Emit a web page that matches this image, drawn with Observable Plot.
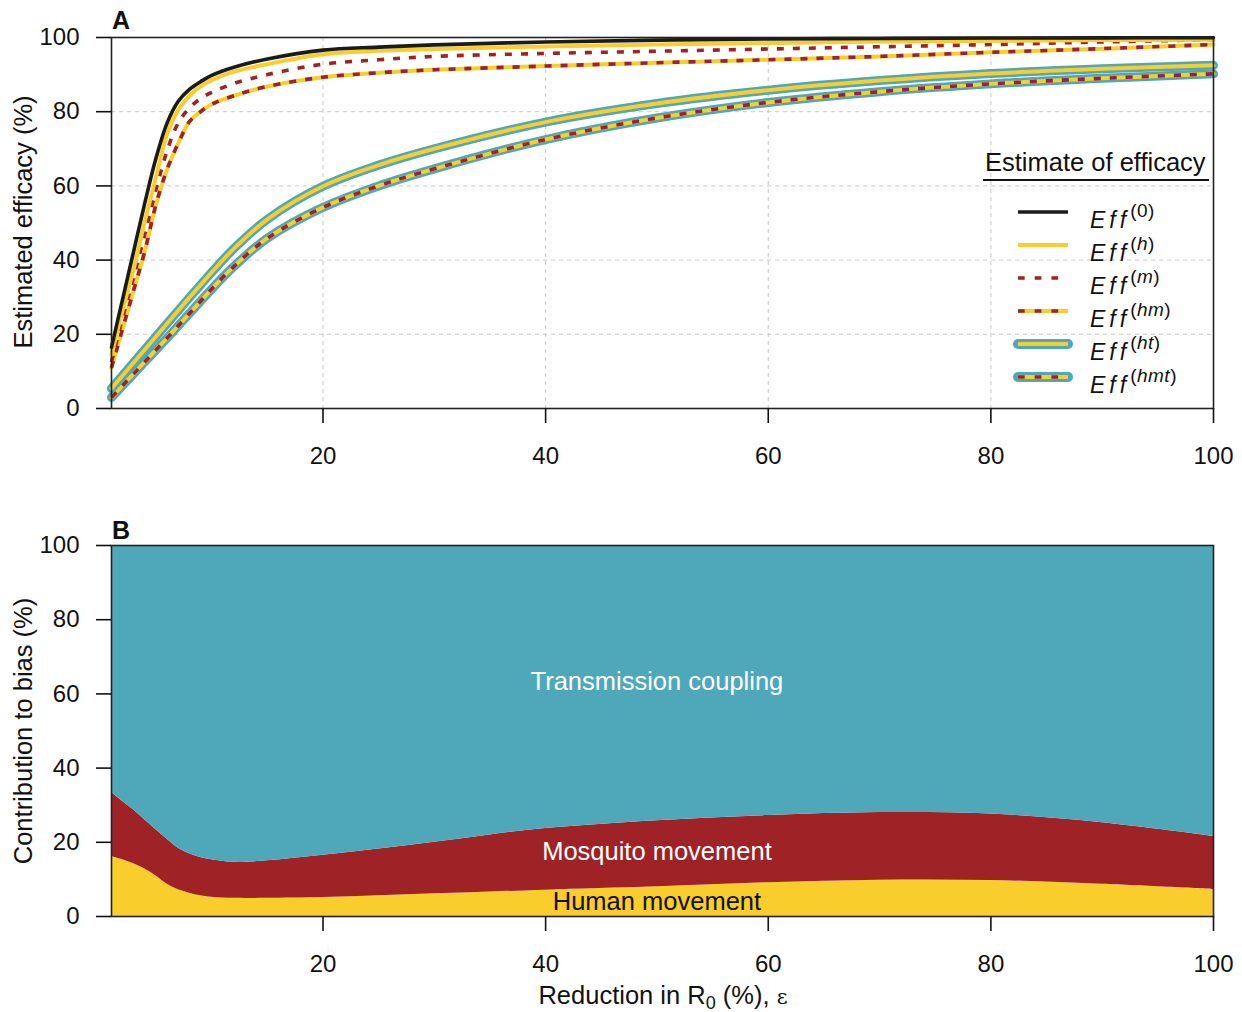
<!DOCTYPE html>
<html>
<head>
<meta charset="utf-8">
<script src="https://cdn.jsdelivr.net/npm/d3@7"></script>
<script src="https://cdn.jsdelivr.net/npm/@observablehq/plot@0.6"></script>
<style>
html,body{margin:0;padding:0;background:#fff;}
#root{position:relative;width:1242px;height:1012px;overflow:hidden;font-family:"Liberation Sans",Arial,Helvetica,sans-serif;color:#111;}
#root svg{position:absolute;left:0;}
.t{position:absolute;white-space:nowrap;line-height:1;font-size:25.5px;}
.c{transform:translate(-50%,-50%);}
.r{transform:translate(-50%,-50%) rotate(-90deg);}
.lab{position:absolute;font-size:25px;font-weight:bold;line-height:1;}
.eff{position:absolute;white-space:nowrap;line-height:1;font-size:23px;font-style:italic;}
.eff .e{letter-spacing:4px;}
.eff sup{font-size:19px;vertical-align:11px;line-height:0;font-style:normal;letter-spacing:0.5px;}
.eff sup i{font-style:italic;}
</style>
</head>
<body>
<div id="root"></div>
<script>
// ---------- Panel A data: estimated efficacy (%) vs reduction in R0 (%) ----------
const effX   = [1, 2, 3, 4, 5, 6, 7, 8, 9, 10, 12, 15, 20, 25, 30, 40, 50, 60, 70, 80, 90, 100];
const eff0   = [16.5, 29.5, 42.5, 55.5, 67.5, 77, 82.8, 86, 88.1, 89.8, 92, 94.2, 96.6, 97.4, 98, 98.8, 99.3, 99.6, 99.75, 99.85, 99.9, 99.95];
const effH   = [14.5, 26.5, 37.7, 50.5, 62.5, 74, 80.5, 84.3, 86.8, 88.5, 90.8, 92.8, 95.5, 96.4, 96.9, 97.6, 98.1, 98.5, 98.9, 99.1, 99.3, 99.4];
const effM   = [12.5, 24.5, 35.5, 47, 59, 69.5, 77, 81, 83.5, 85.2, 87.6, 90, 92.8, 94, 94.9, 95.7, 96.3, 96.9, 97.5, 98.1, 98.8, 99.4];
const effHM  = [11, 21.5, 32, 42.5, 55, 64.5, 71.5, 77.3, 80, 82, 84.3, 86.8, 89.3, 90.5, 91.3, 92.3, 93.2, 94, 94.9, 96, 97, 98.1];
const effHT  = [5.4, 8.9, 12.4, 15.9, 19.4, 22.9, 26.4, 29.9, 33.3, 36.7, 43.1, 51.0, 59.9, 65.6, 70.0, 77.2, 82.2, 85.8, 88.4, 90.3, 91.6, 92.5];
const effHMT = [3, 6.2, 9.4, 12.6, 15.8, 19.0, 22.3, 25.6, 28.9, 32.2, 38.3, 45.9, 54.2, 60.0, 64.6, 72.5, 78.3, 82.5, 85.4, 87.5, 89, 90.2];
const effKeys = ["0", "h", "m", "hm", "ht", "hmt"];

// ---------- Panel B data: contribution to bias (%) ----------
const biasX        = [1, 2, 3, 4, 5, 6, 7, 8, 9, 10, 12, 15, 20, 25, 30, 35, 40, 50, 60, 70, 80, 90, 100];
const human        = [16.2, 15.3, 14.2, 12.8, 10.9, 8.7, 7.2, 6.3, 5.6, 5.2, 4.9, 4.9, 5.1, 5.6, 6.1, 6.6, 7.1, 8.0, 9.1, 9.8, 9.7, 8.7, 7.3];
const mosquito     = [17.3, 15.7, 14.5, 13.2, 12.5, 12.1, 11.2, 10.6, 10.3, 10.1, 9.7, 10.1, 11.4, 12.6, 13.9, 15.4, 16.6, 17.8, 18.1, 18.2, 17.9, 16.6, 14.3];
const transmission = [66.5, 69.0, 71.3, 74.0, 76.6, 79.2, 81.6, 83.1, 84.1, 84.7, 85.4, 85.0, 83.5, 81.8, 80.0, 78.0, 76.3, 74.2, 72.8, 72.0, 72.4, 74.7, 78.4];
const components   = ["Human movement", "Mosquito movement", "Transmission coupling"];
const areaLabels   = [
  {label: "Transmission coupling", x: 50, y: 63.3, dark: false},
  {label: "Mosquito movement",     x: 50, y: 17.5, dark: false},
  {label: "Human movement",        x: 50, y: 4.0,  dark: true}
];

// ---------- Tick labels ----------
const xTicks = [20, 40, 60, 80, 100];
const yTicks = [0, 20, 40, 60, 80, 100];
const gridTicks = [20, 40, 60, 80];

// ---------- styling ----------
const C = {black: "#1b1b1b", yellow: "#f8cd2c", red: "#9e2226", teal: "#4fa7ba", frame: "#222"};
const DASH = "7,9";
const layersFor = {
  "0":   [{s: C.black, w: 3.6}],
  "h":   [{s: C.yellow, w: 4}],
  "m":   [{s: C.red, w: 3.6, d: DASH}],
  "hm":  [{s: C.yellow, w: 4}, {s: C.red, w: 3.6, d: DASH}],
  "ht":  [{s: C.teal, w: 9}, {s: C.yellow, w: 4}],
  "hmt": [{s: C.teal, w: 9}, {s: C.yellow, w: 4}, {s: C.red, w: 3.6, d: DASH}]
};
const seriesY = {"0": eff0, "h": effH, "m": effM, "hm": effHM, "ht": effHT, "hmt": effHMT};
const drawOrder = ["hmt", "ht", "hm", "m", "h", "0"];

const FONT = "'Liberation Sans', Arial, Helvetica, sans-serif";
const W = 1242, ML = 111, MR = 29;
const CURVE = "catmull-rom";

const rows = (xs, ys) => xs.map((x, i) => ({x, y: ys[i]}));

const lineMarks = [];
for (const k of drawOrder) {
  const data = rows(effX, seriesY[k]);
  for (const L of layersFor[k]) {
    lineMarks.push(Plot.line(data, {
      x: "x", y: "y", stroke: L.s, strokeWidth: L.w, curve: CURVE,
      strokeDasharray: L.d || null, strokeLinecap: L.d ? "butt" : "round", strokeLinejoin: "round"
    }));
  }
}

const plotA = Plot.plot({
  width: W, height: 480,
  marginLeft: ML, marginRight: MR, marginTop: 37, marginBottom: 72,
  style: {fontFamily: FONT, fontSize: "24px", color: "#111", background: "transparent", overflow: "visible"},
  x: {domain: [1, 100]},
  y: {domain: [0, 100]},
  marks: [
    Plot.gridX(gridTicks, {stroke: "#c8c8c8", strokeOpacity: 1, strokeWidth: 1, strokeDasharray: "4,4"}),
    Plot.gridY(gridTicks, {stroke: "#c8c8c8", strokeOpacity: 1, strokeWidth: 1, strokeDasharray: "4,4"}),
    ...lineMarks,
    Plot.frame({stroke: C.frame, strokeWidth: 1.6}),
    Plot.axisX(xTicks, {tickSize: 15, tickPadding: 23, label: null, strokeWidth: 1.6, fontSize: 24}),
    Plot.axisY(yTicks, {tickSize: 15, tickPadding: 17, label: null, strokeWidth: 1.6, fontSize: 24})
  ]
});

const stackData = [];
components.forEach((c, j) => {
  const vals = [human, mosquito, transmission][j];
  biasX.forEach((x, i) => stackData.push({x, v: vals[i], component: c}));
});

const plotB = Plot.plot({
  width: W, height: 532,
  marginLeft: ML, marginRight: MR, marginTop: 65, marginBottom: 96,
  style: {fontFamily: FONT, fontSize: "24px", color: "#111", background: "transparent", overflow: "visible"},
  x: {domain: [1, 100]},
  y: {domain: [0, 100]},
  color: {domain: components, range: [C.yellow, C.red, C.teal]},
  marks: [
    Plot.areaY(stackData, {x: "x", y: "v", fill: "component", order: components, curve: CURVE}),
    Plot.text(areaLabels, {x: "x", y: "y", text: "label", fill: d => d.dark ? "#111" : "#fff", fontSize: 25.5}),
    Plot.frame({stroke: C.frame, strokeWidth: 1.6}),
    Plot.axisX(xTicks, {tickSize: 15, tickPadding: 23, label: null, strokeWidth: 1.6, fontSize: 24}),
    Plot.axisY(yTicks, {tickSize: 15, tickPadding: 17, label: null, strokeWidth: 1.6, fontSize: 24})
  ]
});

const root = document.getElementById("root");
plotA.style.top = "0px";
plotB.style.top = "480px";
root.appendChild(plotA);
root.appendChild(plotB);

function addText(html, cls, left, top, extraStyle) {
  const d = document.createElement("div");
  d.className = cls;
  d.style.left = left + "px";
  d.style.top = top + "px";
  if (extraStyle) Object.assign(d.style, extraStyle);
  d.innerHTML = html;
  root.appendChild(d);
  return d;
}

// panel letters
addText("A", "lab", 112, 8);
addText("B", "lab", 112, 518);
// axis titles
addText("Estimated efficacy (%)", "t r", 24, 222);
addText("Contribution to bias (%)", "t r", 24, 731);
addText("Reduction in R<sub style=\"font-size:18px;vertical-align:-5px;line-height:0\">0</sub> (%), <span style=\"font-family:'DejaVu Serif',serif;font-size:21px;line-height:1\">ε</span>", "t c", 663, 996);

// legend
addText("Estimate of efficacy", "t", 985, 150);
const ul = document.createElement("div");
Object.assign(ul.style, {position: "absolute", left: "983px", top: "179px", width: "226px", height: "2px", background: "#111"});
root.appendChild(ul);

const svgNS = "http://www.w3.org/2000/svg";
effKeys.forEach((k, i) => {
  const cy = 212 + i * 33;
  const s = document.createElementNS(svgNS, "svg");
  s.setAttribute("width", 64); s.setAttribute("height", 16);
  s.style.position = "absolute"; s.style.left = "1011px"; s.style.top = (cy - 8) + "px";
  for (const L of layersFor[k]) {
    const ln = document.createElementNS(svgNS, "line");
    ln.setAttribute("x1", 7); ln.setAttribute("x2", 57);
    ln.setAttribute("y1", 8); ln.setAttribute("y2", 8);
    ln.setAttribute("stroke", L.s);
    ln.setAttribute("stroke-width", L.w === 9 ? 10 : L.w);
    ln.setAttribute("stroke-linecap", L.d ? "butt" : (L.w === 9 ? "round" : "butt"));
    if (L.d) ln.setAttribute("stroke-dasharray", "6.7,10");
    s.appendChild(ln);
  }
  root.appendChild(s);
  const sup = k === "0" ? "(0)" : "(<i>" + k + "</i>)";
  addText("<span class=\"e\">Eff</span><sup>" + sup + "</sup>", "eff", 1090, cy - 3);
});
</script>
</body>
</html>
